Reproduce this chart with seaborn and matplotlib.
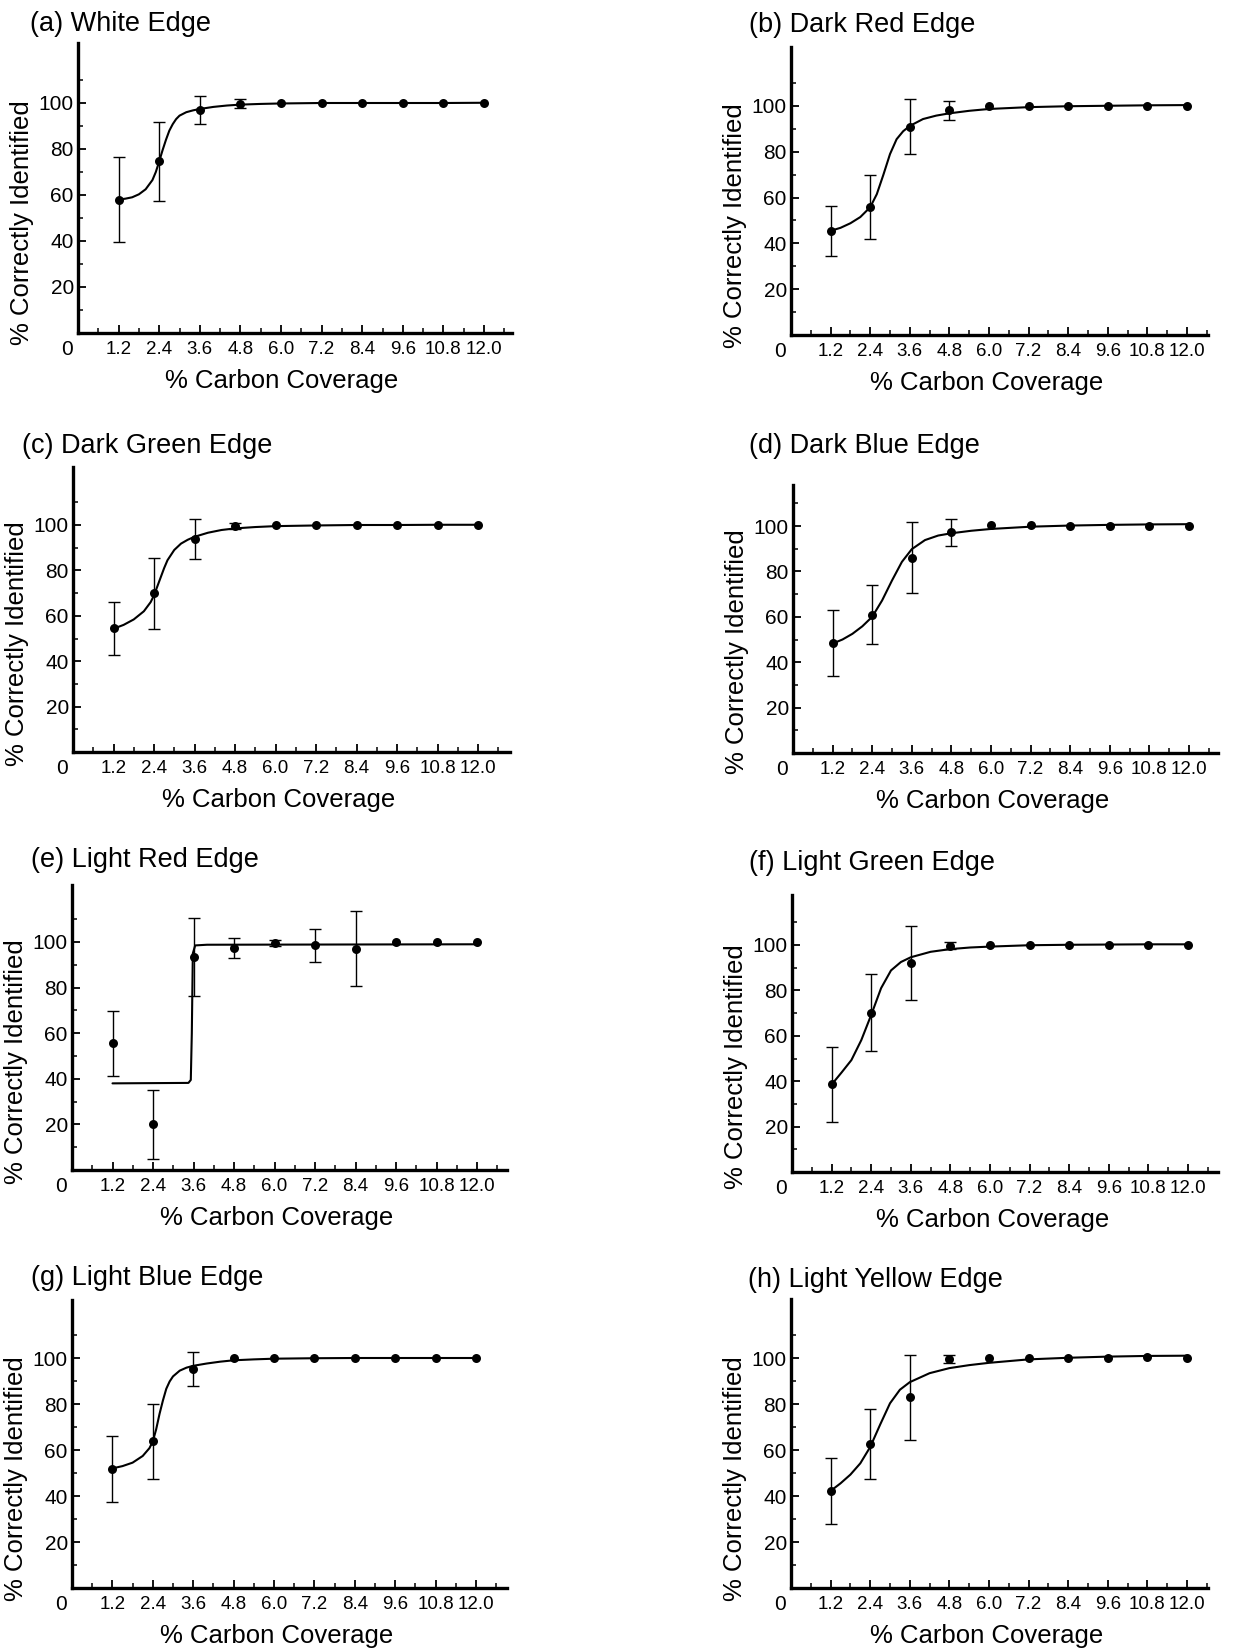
import matplotlib
matplotlib.use("Agg")
import matplotlib.pyplot as plt
import seaborn as sns
import numpy as np
from matplotlib.ticker import MultipleLocator, FixedLocator

# ---------------- data ----------------
coverage = [1.2, 2.4, 3.6, 4.8, 6.0, 7.2, 8.4, 9.6, 10.8, 12.0]
tick_labels = ["1.2", "2.4", "3.6", "4.8", "6.0", "7.2", "8.4", "9.6", "10.8", "12.0"]
y_ticks = [20, 40, 60, 80, 100]

titles = ["(a) White Edge", "(b) Dark Red Edge", "(c) Dark Green Edge", "(d) Dark Blue Edge",
          "(e) Light Red Edge", "(f) Light Green Edge", "(g) Light Blue Edge", "(h) Light Yellow Edge"]

mean_a = [58, 74.6, 97, 99.7, 100, 100, 100, 100, 100, 100]
err_a = [18.5, 17, 6, 2, 0, 0, 0, 0, 0, 0]
mean_b = [45.5, 56, 91, 98.2, 100.1, 100, 100, 100, 100, 100]
err_b = [11, 14, 12, 4.2, 0, 0, 0, 0, 0, 0]
mean_c = [54.5, 69.9, 93.8, 99.6, 100, 100, 100, 100, 100, 100]
err_c = [11.6, 15.5, 8.8, 1.5, 0, 0, 0, 0, 0, 0]
mean_d = [48.3, 61, 86.1, 97.3, 100.3, 100.4, 100, 100, 100, 100]
err_d = [14.5, 13, 15.7, 5.9, 0, 0, 0, 0, 0, 0]
mean_e = [55.5, 20, 93.4, 97.4, 99.6, 98.5, 97.1, 100, 100, 100]
err_e = [14.2, 15, 17.3, 4.3, 1.3, 7.3, 16.4, 0, 0, 0]
mean_f = [38.6, 70.2, 92.2, 99.7, 100, 100, 100, 100, 100, 100]
err_f = [16.6, 17, 16.3, 1.6, 0, 0, 0, 0, 0, 0]
mean_g = [51.9, 63.7, 95.3, 100, 100, 100, 100, 100, 100, 100]
err_g = [14.3, 16.3, 7.3, 0, 0, 0, 0, 0, 0, 0]
mean_h = [42.3, 62.8, 82.9, 99.7, 100, 100, 100, 100, 100.3, 100.1]
err_h = [14.4, 15.2, 18.4, 1.7, 0, 0, 0, 0, 0, 0]

# fitted curves
fit_x_a = [1.2, 1.4, 1.6, 1.8, 2.0, 2.2, 2.3, 2.4, 2.5, 2.6, 2.7, 2.8, 2.9, 3.0, 3.2, 3.4, 3.6, 4.0, 4.4, 4.8, 5.4, 6.0, 7.2, 8.4, 9.6, 10.8, 12.0]
fit_y_a = [58, 58.4, 59.0, 60.3, 62.5, 66.5, 70, 74.6, 79.5, 84, 88, 90.8, 93, 94.5, 96, 96.8, 97.4, 98.3, 98.9, 99.3, 99.6, 99.8, 100, 100, 100, 100, 100.1]
fit_x_b = [1.2, 1.5, 1.8, 2.1, 2.4, 2.6, 2.8, 3.0, 3.2, 3.4, 3.6, 4.0, 4.4, 4.8, 5.4, 6.0, 7.2, 8.4, 9.6, 10.8, 12.0]
fit_y_b = [45.5, 46.8, 48.8, 51.5, 55.8, 61.5, 70, 79, 85.5, 89, 91.3, 94.3, 95.8, 96.8, 97.9, 98.7, 99.5, 99.9, 100.1, 100.3, 100.4]
fit_x_c = [1.2, 1.5, 1.8, 2.1, 2.3, 2.4, 2.5, 2.6, 2.7, 2.8, 3.0, 3.2, 3.4, 3.6, 4.0, 4.4, 4.8, 5.4, 6.0, 7.2, 8.4, 9.6, 10.8, 12.0]
fit_y_c = [54.3, 56, 58.4, 62, 66, 69, 73, 77, 81, 84.5, 89, 91.8, 93.5, 94.8, 96.6, 97.8, 98.5, 99.1, 99.5, 99.8, 100, 100, 100.1, 100.1]
fit_x_d = [1.2, 1.5, 1.8, 2.1, 2.4, 2.7, 3.0, 3.3, 3.6, 4.0, 4.4, 4.8, 5.4, 6.0, 7.2, 8.4, 9.6, 10.8, 12.0]
fit_y_d = [48.2, 50, 52.5, 55.8, 60, 67.2, 76, 84.2, 89.8, 93.8, 95.8, 96.8, 97.9, 98.7, 99.7, 100.2, 100.5, 100.7, 100.8]
fit_x_e = [1.2, 3.45, 3.52, 3.55, 3.58, 3.65, 4.0, 12.0]
fit_y_e = [38, 38.2, 39.5, 60, 95, 98.5, 98.8, 99]
fit_x_f = [1.2, 1.5, 1.8, 2.1, 2.4, 2.7, 3.0, 3.3, 3.6, 4.2, 4.8, 5.4, 6.0, 7.2, 8.4, 9.6, 10.8, 12.0]
fit_y_f = [38.5, 43.8, 49.3, 58.1, 69.2, 81, 88.8, 92.5, 94.6, 97, 98.2, 98.9, 99.3, 99.9, 100.1, 100.2, 100.3, 100.3]
fit_x_g = [1.2, 1.5, 1.8, 2.1, 2.3, 2.4, 2.5, 2.6, 2.7, 2.8, 2.9, 3.0, 3.2, 3.4, 3.6, 4.0, 4.4, 4.8, 5.4, 6.0, 7.2, 8.4, 9.6, 10.8, 12.0]
fit_y_g = [52, 53, 54.5, 57.4, 60.8, 63.7, 69, 75.7, 81.5, 86.6, 89.8, 92, 94.5, 95.8, 96.6, 97.6, 98.4, 99, 99.4, 99.7, 99.9, 100, 100, 100, 100]
fit_x_h = [1.2, 1.5, 1.8, 2.1, 2.4, 2.7, 3.0, 3.3, 3.6, 4.2, 4.8, 5.4, 6.0, 7.2, 8.4, 9.6, 10.8, 12.0]
fit_y_h = [42.2, 45.5, 49.3, 54.2, 61.3, 71, 80.3, 86.2, 89.5, 93.4, 95.6, 96.9, 97.9, 99.4, 100.1, 100.6, 100.9, 101]

means = [mean_a, mean_b, mean_c, mean_d, mean_e, mean_f, mean_g, mean_h]
errs = [err_a, err_b, err_c, err_d, err_e, err_f, err_g, err_h]
fits_x = [fit_x_a, fit_x_b, fit_x_c, fit_x_d, fit_x_e, fit_x_f, fit_x_g, fit_x_h]
fits_y = [fit_y_a, fit_y_b, fit_y_c, fit_y_d, fit_y_e, fit_y_f, fit_y_g, fit_y_h]

# ---------------- layout (pixels in the 1255x1648 canvas) ----------------
W, H = 1255, 1648
# left, right, bottom, top, y=100 pixel, x=12 pixel
rects = [
    (78, 512, 333, 43, 103, 484),
    (791, 1208, 335, 47, 106, 1187),
    (73, 510, 752, 467, 525, 478),
    (793, 1218, 753, 485, 526, 1189),
    (72, 507, 1170, 885, 942, 477),
    (792, 1218, 1172, 895, 945, 1188),
    (72, 507, 1588, 1300, 1358, 476),
    (791, 1208, 1588, 1299, 1358, 1187),
]
title_pos = [(30, 31), (749, 32), (22, 453), (749, 453), (31, 867), (749, 870), (31, 1285), (748, 1287)]

sns.set_theme(style="ticks")
plt.rcParams["font.family"] = ["Liberation Sans", "DejaVu Sans"]
plt.rcParams["axes.linewidth"] = 2.4

XTICK_FS = 13.5
YTICK_FS = 15
LABEL_FS = 18.5
TITLE_FS = 19.5

fig = plt.figure(figsize=(W / 100, H / 100), dpi=100)
fig.patch.set_facecolor("white")

for i in range(8):
    l, r, b, t, y100, x12 = rects[i]
    ax = fig.add_axes([l / W, 1 - b / H, (r - l) / W, (b - t) / H])
    ax.set_facecolor("white")
    ymax = (b - t) / (b - y100) * 100
    xmax = (r - l) / (x12 - l) * 12.0

    sns.lineplot(x=fits_x[i], y=fits_y[i], ax=ax, color="black", linewidth=1.5,
                 sort=False, estimator=None)
    xs = [c for c, e in zip(coverage, errs[i]) if e > 0]
    ms = [m for m, e in zip(means[i], errs[i]) if e > 0]
    es = [e for e in errs[i] if e > 0]
    ax.errorbar(xs, ms, yerr=es, fmt="none", ecolor="black", elinewidth=1.0,
                capsize=4.5, capthick=1.0)
    sns.scatterplot(x=coverage, y=means[i], ax=ax, color="black", s=42,
                    edgecolor="black", linewidth=0, zorder=5)

    ax.set_xlim(0, xmax)
    ax.set_ylim(0, ymax)
    ax.xaxis.set_major_locator(FixedLocator(coverage))
    ax.set_xticklabels(tick_labels, fontsize=XTICK_FS)
    ax.xaxis.set_minor_locator(MultipleLocator(0.6))
    ax.yaxis.set_major_locator(FixedLocator(y_ticks))
    ax.set_yticklabels([str(v) for v in y_ticks], fontsize=YTICK_FS)
    ax.yaxis.set_minor_locator(FixedLocator([10, 30, 50, 70, 90, 110]))
    ax.tick_params(axis="both", which="major", direction="in", length=6, width=1.3,
                   color="black", labelcolor="black")
    ax.tick_params(axis="both", which="minor", direction="in", length=3.5, width=1.1, color="black")
    ax.tick_params(axis="x", which="major", pad=6)
    ax.tick_params(axis="y", which="major", pad=3)
    sns.despine(ax=ax)
    for s in ["left", "bottom"]:
        ax.spines[s].set_color("black")
        ax.spines[s].set_linewidth(2.4)

    ax.set_xlabel("% Carbon Coverage", fontsize=LABEL_FS, color="black")
    ax.set_ylabel("% Correctly Identified", fontsize=LABEL_FS, color="black")
    width_px = r - l
    height_px = b - t
    ax.xaxis.set_label_coords(0.47, -36 / height_px)
    ax.xaxis.label.set_va("top")
    ax.yaxis.set_label_coords(-56 / width_px, 0.38)
    ax.yaxis.label.set_va("center")
    ax.yaxis.label.set_ha("center")

    ax.annotate("0", xy=(0, 0), xycoords="data", xytext=(-8, -12), textcoords="offset points",
                ha="center", va="center", fontsize=YTICK_FS,
                color="black", annotation_clip=False)

    tx, ty = title_pos[i]
    fig.text(tx / W, 1 - ty / H, titles[i], fontsize=TITLE_FS, ha="left", va="baseline", color="black")

fig.savefig("out.png", dpi=100, facecolor="white")
